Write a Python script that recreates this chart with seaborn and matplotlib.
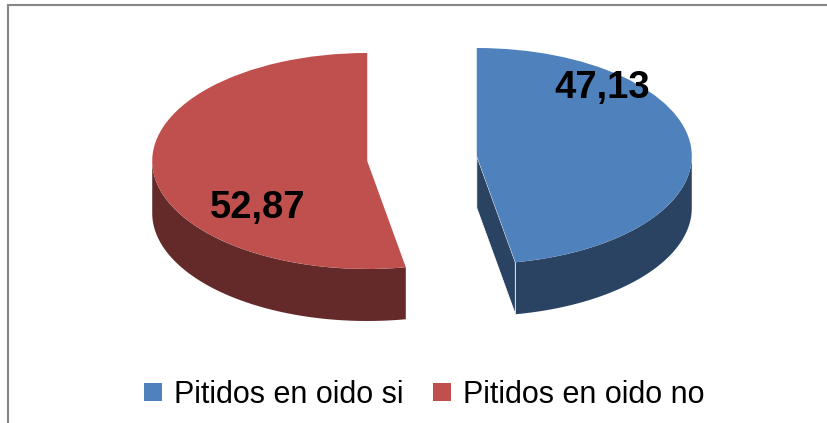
import numpy as np
import matplotlib
matplotlib.use("Agg")
import matplotlib.pyplot as plt
from matplotlib.patches import Polygon, Rectangle
from matplotlib.lines import Line2D
import seaborn as sns

# data
categories = ["Pitidos en oido si", "Pitidos en oido no"]
values = [47.13, 52.87]
value_labels = ["47,13", "52,87"]
top_colors = ["#4F81BD", "#C0504D"]
side_colors = ["#2B4362", "#632A29"]

sns.set_style("white")
plt.rcParams["font.family"] = ["Liberation Sans", "DejaVu Sans"]
plt.rcParams["text.color"] = "black"

W, H = 827, 423
fig = plt.figure(figsize=(W / 100, H / 100), dpi=100)
ax = fig.add_axes([0, 0, 1, 1])

# pixels per data unit (flattened pie -> ellipse)
rx, ry = 215, 108
cx, cy = 422, 158.5
depth = 52 / ry
explode = 55 / rx

wedges, _ = ax.pie(values, colors=top_colors, startangle=90, counterclock=False,
                   explode=[explode] * len(values),
                   wedgeprops=dict(linewidth=0, zorder=3))

# fake 3d sides under each top face
for w, side in zip(wedges, side_colors):
    x0, y0 = w.center
    t = np.linspace(w.theta1, w.theta2, 400)
    front = t[np.sin(np.radians(t)) < 0]
    if len(front):
        xs = x0 + np.cos(np.radians(front))
        ys = y0 + np.sin(np.radians(front))
        pts = np.vstack([np.column_stack([xs, ys]),
                         np.column_stack([xs[::-1], ys[::-1] - depth])])
        ax.add_patch(Polygon(pts, closed=True, facecolor=side, edgecolor="none", zorder=2))
    # radial cut faces facing the viewer
    for ang, normal in [(w.theta1, w.theta1 - 90), (w.theta2, w.theta2 + 90)]:
        if np.sin(np.radians(normal)) < -1e-6:
            ex = x0 + np.cos(np.radians(ang))
            ey = y0 + np.sin(np.radians(ang))
            pts = [(x0, y0), (ex, ey), (ex, ey - depth), (x0, y0 - depth)]
            ax.add_patch(Polygon(pts, closed=True, facecolor=side, edgecolor="white",
                                 linewidth=0.6, zorder=2.5))

ax.set_aspect("auto")
ax.set_xlim(-cx / rx, (W - cx) / rx)
ax.set_ylim(-(H - cy) / ry, cy / ry)
ax.axis("off")

# value labels
label_pos = [(602, 88), (258, 208)]
for lab, (px, py) in zip(value_labels, label_pos):
    fig.text(px / W, 1 - py / H, lab, fontsize=27.5, fontweight="bold",
             ha="center", va="center", color="black")

# legend
handles = [Line2D([], [], marker="s", linestyle="", markersize=13,
                  markerfacecolor=c, markeredgewidth=0) for c in top_colors]
fig.legend(handles, categories, loc="center", bbox_to_anchor=(424 / W, 1 - 395 / H),
           ncol=2, frameon=False, fontsize=22, handlelength=0.6,
           handletextpad=0.4, columnspacing=0.95, labelcolor="black")

# chart border (cropped on right and bottom)
fig.add_artist(Rectangle((7.5 / W, -0.2), 2, 1.2 - 4.5 / H, transform=fig.transFigure,
                         fill=False, edgecolor="#868686", linewidth=1.5))

fig.savefig("out.png", dpi=100)
